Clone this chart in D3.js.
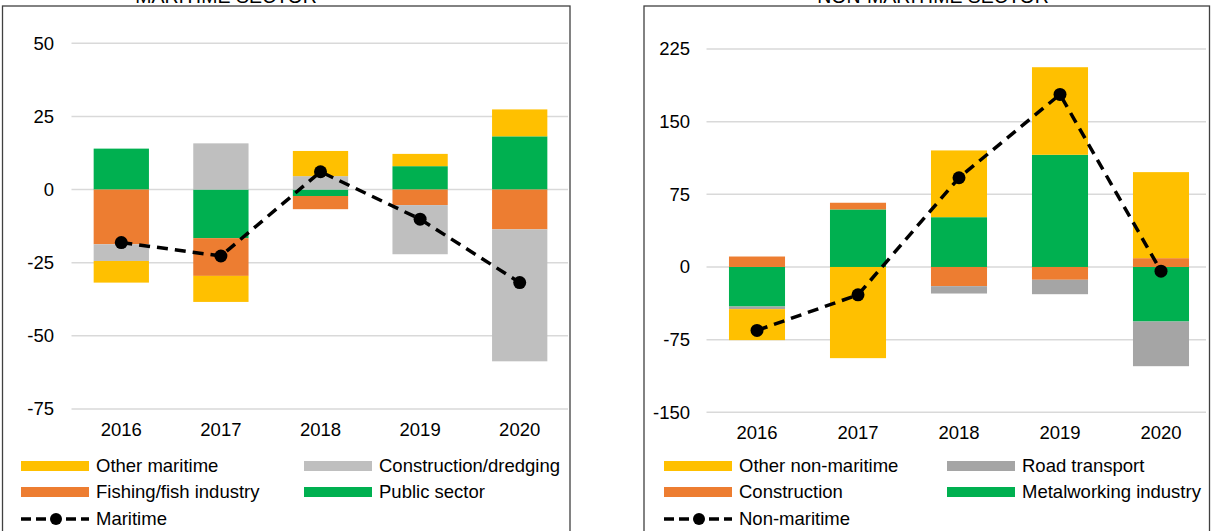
<!DOCTYPE html>
<html><head><meta charset="utf-8">
<script src="https://cdn.jsdelivr.net/npm/d3@7"></script>
<style>
html,body{margin:0;padding:0;background:#fff;}
svg text{font-family:"Liberation Sans",Arial,sans-serif;fill:#000;}
</style></head>
<body>
<svg id="c" width="1212" height="531"></svg>
<script>
// ---------- data ----------
const years = ["2016", "2017", "2018", "2019", "2020"];

// Maritime sector (stack order: Public, Fishing, Construction, Other)
const publicSector = [14.0, -16.6, -2.2, 8.0, 18.2];
const fishingFish = [-18.7, -12.9, -4.5, -5.3, -13.6];
const constructionDredging = [-5.7, 15.8, 4.6, -16.8, -45.1];
const otherMaritime = [-7.4, -8.9, 8.6, 4.2, 9.2];
const maritimeTotal = [-18.1, -22.7, 6.1, -10.1, -31.8];
const maritimeTicks = [-75, -50, -25, 0, 25, 50];

// Non-maritime sector (stack order: Metalworking, Construction, Road, Other)
const metalworking = [-40.8, 59.4, 51.4, 115.8, -56.3];
const constructionNM = [10.8, 6.9, -19.8, -13.2, 9.1];
const roadTransport = [-2.7, 0, -7.6, -14.9, -46.1];
const otherNonMaritime = [-32.0, -94.1, 68.9, 90.4, 88.8];
const nonMaritimeTotal = [-65.5, -28.7, 92.1, 178.1, -4.3];
const nonMaritimeTicks = [-150, -75, 0, 75, 150, 225];

const YELLOW = "#FFC000", ORANGE = "#ED7D31", GREEN = "#00B050";

const panels = [
  {
    title: "MARITIME SECTOR", titleX: 226,
    box: [2.5, 6, 570, 540],
    xRange: [71.5, 569.5], gridEnd: 568,
    yDomain: [-75, 50], yRange: [409, 43.3], labelX: 54, yearY: 437,
    series: [
      {name: "Public sector", values: publicSector, color: GREEN},
      {name: "Fishing/fish industry", values: fishingFish, color: ORANGE},
      {name: "Construction/dredging", values: constructionDredging, color: "#BFBFBF"},
      {name: "Other maritime", values: otherMaritime, color: YELLOW}
    ],
    total: maritimeTotal, totalName: "Maritime", ticks: maritimeTicks,
    legendCols: [21, 304],
    legendGrid: [["Other maritime", "Construction/dredging"], ["Fishing/fish industry", "Public sector"]]
  },
  {
    title: "NON-MARITIME SECTOR", titleX: 933,
    box: [644, 6, 1209.5, 540],
    xRange: [706.5, 1211.5], gridEnd: 1206,
    yDomain: [-150, 225], yRange: [412.3, 49], labelX: 690, yearY: 440,
    series: [
      {name: "Metalworking industry", values: metalworking, color: GREEN},
      {name: "Construction", values: constructionNM, color: ORANGE},
      {name: "Road transport", values: roadTransport, color: "#A5A5A5"},
      {name: "Other non-maritime", values: otherNonMaritime, color: YELLOW}
    ],
    total: nonMaritimeTotal, totalName: "Non-maritime", ticks: nonMaritimeTicks,
    legendCols: [664, 947],
    legendGrid: [["Other non-maritime", "Road transport"], ["Construction", "Metalworking industry"]]
  }
];

const svg = d3.select("#c");
const FS = "18.5px";

panels.forEach(p => {
  const g = svg.append("g");
  // title (cut off at top, as in the reference)
  g.append("text").attr("x", p.titleX).attr("y", 3).attr("text-anchor", "middle")
    .style("font-size", "19.5px").text(p.title);
  // frame
  g.append("rect").attr("x", p.box[0]).attr("y", p.box[1])
    .attr("width", p.box[2] - p.box[0]).attr("height", p.box[3] - p.box[1])
    .attr("fill", "none").attr("stroke", "#404040").attr("stroke-width", 1.3);

  const x = d3.scaleBand().domain(years).range(p.xRange).paddingInner(0.445).paddingOuter(0.2225);
  const y = d3.scaleLinear().domain(p.yDomain).range(p.yRange);

  // gridlines
  g.selectAll(".grid").data(p.ticks).join("line")
    .attr("x1", p.xRange[0]).attr("x2", p.gridEnd)
    .attr("y1", d => y(d)).attr("y2", d => y(d))
    .attr("stroke", "#D9D9D9").attr("stroke-width", 1.5);

  // y axis labels (plain hyphen minus)
  const yAxis = d3.axisLeft(y).tickValues(p.ticks).tickSize(0).tickPadding(0)
    .tickFormat(d => String(d));
  const ya = g.append("g").attr("transform", `translate(${p.labelX},0)`).call(yAxis);
  ya.select(".domain").remove();
  ya.selectAll("text").style("font-size", FS).attr("fill", "#000");

  // x axis labels
  const xAxis = d3.axisBottom(x).tickSize(0).tickPadding(0);
  const xa = g.append("g").attr("transform", `translate(0,${p.yearY - 14})`).call(xAxis);
  xa.select(".domain").remove();
  xa.selectAll("text").style("font-size", FS).attr("dy", "0.71em").attr("fill", "#000");

  // stacked bars
  const rows = years.map((yr, i) => {
    const o = {year: yr};
    p.series.forEach(s => o[s.name] = s.values[i]);
    return o;
  });
  const stack = d3.stack().keys(p.series.map(s => s.name)).offset(d3.stackOffsetDiverging)(rows);
  stack.forEach((layer, li) => {
    g.append("g").selectAll("rect").data(layer).join("rect")
      .attr("x", d => x(d.data.year))
      .attr("width", x.bandwidth())
      .attr("y", d => y(Math.max(d[0], d[1])))
      .attr("height", d => Math.abs(y(d[0]) - y(d[1])))
      .attr("fill", p.series[li].color);
  });

  // total line
  const line = d3.line().x((d, i) => x(years[i]) + x.bandwidth() / 2).y(d => y(d));
  g.append("path").datum(p.total).attr("d", line)
    .attr("fill", "none").attr("stroke", "#000").attr("stroke-width", 3.5)
    .attr("stroke-dasharray", "11,7");
  g.selectAll(".dot").data(p.total).join("circle")
    .attr("cx", (d, i) => x(years[i]) + x.bandwidth() / 2).attr("cy", d => y(d))
    .attr("r", 6.5).attr("fill", "#000");

  // legend
  const rowY = [466, 492, 519];
  const colorOf = name => p.series.find(s => s.name === name).color;
  p.legendGrid.forEach((row, ri) => {
    row.forEach((name, ci) => {
      const lx = p.legendCols[ci];
      g.append("rect").attr("x", lx).attr("y", rowY[ri] - 5).attr("width", 68).attr("height", 10)
        .attr("fill", colorOf(name));
      g.append("text").attr("x", lx + 75).attr("y", rowY[ri]).attr("dy", "0.35em")
        .style("font-size", FS).text(name);
    });
  });
  const lx0 = p.legendCols[0];
  g.append("line").attr("x1", lx0).attr("x2", lx0 + 68).attr("y1", rowY[2]).attr("y2", rowY[2])
    .attr("stroke", "#000").attr("stroke-width", 3.5).attr("stroke-dasharray", "10,5");
  g.append("circle").attr("cx", lx0 + 35).attr("cy", rowY[2]).attr("r", 6).attr("fill", "#000");
  g.append("text").attr("x", lx0 + 75).attr("y", rowY[2]).attr("dy", "0.35em")
    .style("font-size", FS).text(p.totalName);
});
</script>
</body></html>
